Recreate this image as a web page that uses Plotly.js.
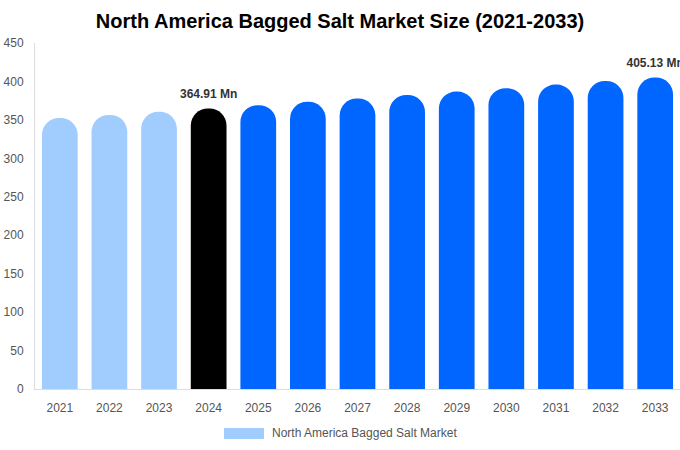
<!DOCTYPE html>
<html>
<head>
<meta charset="utf-8">
<script src="https://cdn.plot.ly/plotly-3.0.1.min.js"></script>
<style>
  html, body { margin: 0; padding: 0; background: #fff; }
  #chart { width: 680px; height: 450px; }
</style>
</head>
<body>
<div id="chart"></div>
<script>
// values (USD Mn)
const years = ['2021', '2022', '2023', '2024', '2025', '2026', '2027',
               '2028', '2029', '2030', '2031', '2032', '2033']
const marketSize = [352.5, 356.5, 360.5, 364.91, 369.2, 373.5, 377.9,
                    382.3, 386.8, 391.3, 395.9, 400.5, 405.13]
const barColors = ['#a0cdfd', '#a0cdfd', '#a0cdfd', '#000000',
                   '#0066ff', '#0066ff', '#0066ff', '#0066ff', '#0066ff',
                   '#0066ff', '#0066ff', '#0066ff', '#0066ff']
const labelledYears = ['2024', '2033']
const seriesName = 'North America Bagged Salt Market'

const font = 'Liberation Sans, Arial, Helvetica, sans-serif'

// hand-made legend so the swatch can be a wide bar like the original
const annotations = [{
  x: 0.364, y: -0.127, xref: 'paper', yref: 'paper',
  xanchor: 'left', yanchor: 'middle', showarrow: false,
  text: seriesName,
  font: { family: font, size: 12, color: '#555' }
}]
const shapes = [{
  type: 'rect', xref: 'paper', yref: 'paper',
  x0: 0.293, x1: 0.355, y0: -0.113, y1: -0.1445,
  fillcolor: barColors[0], line: { width: 0 }
}]

const bars = {
  x: years,
  y: marketSize,
  type: 'bar',
  name: seriesName,
  marker: { color: barColors, cornerradius: '50%' },
  hoverinfo: 'none'
}

// value labels above the two highlighted bars; a text trace does not push
// the margins, so the last label runs off the edge like in the original
const labels = {
  x: labelledYears,
  y: labelledYears.map(yr => marketSize[years.indexOf(yr)]),
  text: labelledYears.map(yr => '<b>' + marketSize[years.indexOf(yr)].toFixed(2) + ' Mn</b>'),
  type: 'scatter',
  mode: 'markers+text',
  textposition: 'top center',
  marker: { size: 10, opacity: 0 },
  textfont: { family: font, size: 12, color: '#333' },
  cliponaxis: false,
  hoverinfo: 'none',
  showlegend: false
}

const layout = {
  width: 680,
  height: 450,
  margin: { l: 35, r: 0, t: 43, b: 61, pad: 0 },
  paper_bgcolor: '#fff',
  plot_bgcolor: '#fff',
  title: {
    text: '<b>North America Bagged Salt Market Size (2021-2033)</b>',
    font: { family: font, size: 20, color: '#000' },
    x: 0.5, xanchor: 'center', y: 0.953, yanchor: 'middle'
  },
  bargap: 0.28,
  xaxis: {
    type: 'category', automargin: false,
    categoryorder: 'array', categoryarray: years,
    range: [-0.5, years.length - 0.5],
    showline: true, linecolor: '#dddddd', linewidth: 1,
    showgrid: false, ticks: '', ticklabelstandoff: 8,
    tickfont: { family: font, size: 12, color: '#555' }
  },
  yaxis: {
    range: [0, 450], dtick: 50, automargin: false,
    showline: true, linecolor: '#dddddd', linewidth: 1,
    showgrid: false, zeroline: false, ticks: '', ticklabelstandoff: 8,
    tickfont: { family: font, size: 12, color: '#555' }
  },
  showlegend: false,
  annotations: annotations,
  shapes: shapes
}

Plotly.newPlot('chart', [bars, labels], layout, { displayModeBar: false, staticPlot: true })
</script>
</body>
</html>
